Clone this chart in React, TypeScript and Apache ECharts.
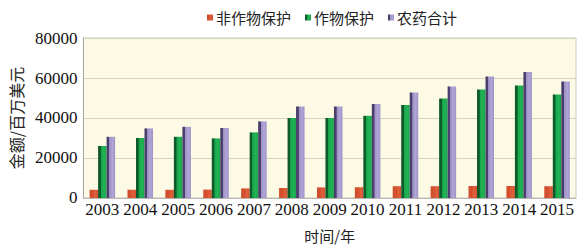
import React, { useEffect, useRef } from "react";
import * as echarts from "echarts";

const years = ["2003", "2004", "2005", "2006", "2007", "2008", "2009", "2010", "2011", "2012", "2013", "2014", "2015"];
const nonCrop = [4100, 4100, 4100, 4200, 4800, 5000, 5300, 5400, 5900, 5900, 6000, 6000, 5900];
const crop = [26000, 30000, 30600, 29800, 32800, 40000, 40000, 41100, 46500, 49700, 54300, 56300, 51800];
const total = [30600, 34800, 35600, 35000, 38300, 45800, 45800, 47000, 52800, 55700, 60800, 63000, 58200];
const seriesNames = ["非作物保护", "作物保护", "农药合计"];
const yTicks = { min: 0, max: 80000, interval: 20000 };

const cjk = "'Noto Sans CJK SC', 'Noto Sans', sans-serif";
const serif = "'Liberation Serif', 'DejaVu Serif', serif";

function grad(dark: string, base: string, light: string) {
  return new echarts.graphic.LinearGradient(0, 0, 1, 0, [
    { offset: 0, color: dark },
    { offset: 0.28, color: dark },
    { offset: 0.34, color: base },
    { offset: 0.7, color: light },
    { offset: 1, color: base },
  ]);
}

export default function App() {
  const ref = useRef<HTMLDivElement>(null);
  useEffect(() => {
    if (!ref.current) return;
    const chart = echarts.init(ref.current, null, { renderer: "svg" });
    const colors = ["#c84a2c", "#1aa64c", "#9e92c8"];
    const fills = [
      grad("#d24e2e", "#d24e2e", "#e0603c"),
      grad("#0d5a2a", "#18a34a", "#22b456"),
      grad("#4a3f6a", "#9c90c6", "#b0a6d6"),
    ];
    const data = [nonCrop, crop, total];
    chart.setOption({
      animation: false,
      backgroundColor: "#ffffff",
      legend: {
        top: 5,
        left: 202,
        itemWidth: 6,
        itemHeight: 6,
        itemGap: 14,
        icon: "rect",
        textStyle: { fontFamily: cjk, fontSize: 15, color: "#222", padding: [0, 0, 0, -2] },
        data: seriesNames,
      },
      grid: {
        left: 77,
        right: 12,
        top: 38,
        bottom: 49,
        show: true,
        backgroundColor: "#fcf9e4",
        borderColor: "#c9c9c0",
        borderWidth: 1,
      },
      xAxis: {
        type: "category",
        data: years,
        name: "时间/年",
        nameLocation: "middle",
        nameGap: 30,
        nameTextStyle: { fontFamily: cjk, fontSize: 15, color: "#222" },
        axisLine: { lineStyle: { color: "#b8b8b0" } },
        axisTick: { show: false },
        axisLabel: { fontFamily: serif, fontSize: 17, color: "#111", margin: 3, interval: 0 },
      },
      yAxis: {
        type: "value",
        min: yTicks.min,
        max: yTicks.max,
        interval: yTicks.interval,
        name: "金额/百万美元",
        nameLocation: "middle",
        nameGap: 55,
        nameRotate: 90,
        nameTextStyle: { fontFamily: cjk, fontSize: 16, color: "#222" },
        axisLine: { show: true, lineStyle: { color: "#a8a8a0" } },
        axisTick: { show: false },
        splitLine: { lineStyle: { color: "#d6d3c0" } },
        axisLabel: {
          fontFamily: serif,
          fontSize: 17,
          color: "#111",
          margin: 6,
          formatter: (v: number) => String(v),
        },
      },
      series: seriesNames.map((name, i) => ({
        name,
        type: "bar",
        data: data[i],
        barWidth: 8.5,
        barGap: "0%",
        itemStyle: { color: fills[i] },
        emphasis: { disabled: true },
      })),
      color: colors,
    });
    return () => chart.dispose();
  }, []);
  return (
    <div
      ref={ref}
      style={{ position: "absolute", left: 0, top: 0, width: 588, height: 248 }}
    />
  );
}
